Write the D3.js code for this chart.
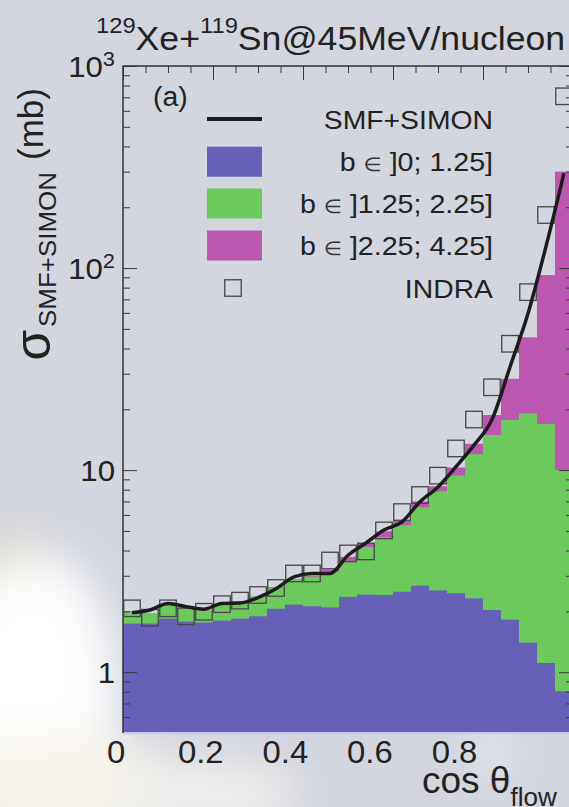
<!DOCTYPE html>
<meta charset="utf-8">
<html>
<head>
<script src="https://cdnjs.cloudflare.com/ajax/libs/d3/7.8.5/d3.min.js"></script>
<style>
    body { margin: 0; background: #d3d5df; }
    svg { display: block; }
    text { font-family: "Liberation Sans", Arial, Helvetica, sans-serif; fill: #222; }
</style>
</head>
<body>
<script>
// bins of cos(theta_flow), width 0.04
var cosBins = [0, 0.04, 0.08, 0.12, 0.16, 0.2, 0.24, 0.28, 0.32, 0.36, 0.4, 0.44, 0.48,
               0.52, 0.56, 0.6, 0.64, 0.68, 0.72, 0.76, 0.8, 0.84, 0.88, 0.92, 0.96];
var binWidth = 0.04;

// SMF+SIMON cross sections (mb) per impact parameter class
var sigmaB1 = [1.74, 1.74, 1.84, 1.78, 1.76, 1.80, 1.84, 1.89, 2.06, 2.16, 2.12, 2.09, 2.36,
               2.42, 2.41, 2.50, 2.68, 2.54, 2.46, 2.32, 2.03, 1.82, 1.40, 1.11, 0.805];
var sigmaB2 = [0.26, 0.21, 0.30, 0.30, 0.26, 0.36, 0.39, 0.48, 0.56, 0.70, 0.85, 1.06, 1.19,
               1.75, 2.24, 2.84, 3.87, 5.31, 6.94, 9.68, 12.9, 15.9, 17.7, 15.8, 9.2];
var sigmaB3 = [0, 0, 0, 0, 0, 0, 0, 0, 0.02, 0.02, 0.03, 0.07, 0.17,
               0.18, 0.33, 0.29, 0.45, 0.48, 0.9, 1.5, 3.8, 10.6, 26.3, 75.4, 290];

// INDRA data and SMF+SIMON total curve, at bin centres
var indra = [2.07, 1.86, 2.07, 1.89, 1.99, 2.17, 2.26, 2.41, 2.61, 3.08, 3.08, 3.57, 3.87,
             3.96, 5.03, 6.2, 7.53, 9.39, 12.8, 17.8, 25.7, 42.2, 76, 183, 708];
var smfSimon = [1.97, 2.03, 2.19, 2.11, 2.05, 2.19, 2.20, 2.34, 2.59, 2.96, 3.08, 3.08, 3.79,
                4.36, 5.05, 5.55, 6.97, 8.26, 10.4, 13.3, 17.8, 32.4, 59.6, 128, 295];

var seriesKeys = ["b1", "b2", "b3"];
var seriesRanges = ["]0; 1.25]", "]1.25; 2.25]", "]2.25; 4.25]"];
var seriesColors = ["#6660b8", "#6cca5c", "#bb56b1"];

var xTicks = [0, 0.2, 0.4, 0.6, 0.8];
var yTicks = [1, 10, 100, 1000];
var yTickBase = ["1", "10", "10", "10"];
var yTickExp = ["", "", "2", "3"];

var width = 569, height = 807;

var x = d3.scaleLinear().domain([0, 1]).range([123, 573]);
var y = d3.scaleLog().domain([0.5, 1000]).range([733, 66]);

var svg = d3.select("body").append("svg")
    .attr("width", width)
    .attr("height", height);

// background: grey sky with a bright patch at lower left
var defs = svg.append("defs");
defs.append("filter").attr("id", "blur")
    .attr("x", "-50%").attr("y", "-50%").attr("width", "200%").attr("height", "200%")
    .append("feGaussianBlur").attr("stdDeviation", 22);
svg.append("rect").attr("width", width).attr("height", height).attr("fill", "#d3d5df");
var bg = svg.append("g").attr("filter", "url(#blur)");
bg.append("ellipse").attr("cx", 30).attr("cy", 690).attr("rx", 85).attr("ry", 140).attr("fill", "#ffffff");
bg.append("ellipse").attr("cx", 70).attr("cy", 790).attr("rx", 120).attr("ry", 55).attr("fill", "#f6f3e8");
bg.append("ellipse").attr("cx", 200).attr("cy", 795).attr("rx", 100).attr("ry", 35).attr("fill", "#f0efec");
bg.append("ellipse").attr("cx", 10).attr("cy", 550).attr("rx", 25).attr("ry", 25).attr("fill", "#e4dfcd");
bg.append("ellipse").attr("cx", 492).attr("cy", 752).attr("rx", 18).attr("ry", 14).attr("fill", "#ffffff");

// stacked histogram
var rows = cosBins.map(function (c, i) {
    return { lo: c, b1: sigmaB1[i], b2: sigmaB2[i], b3: sigmaB3[i] };
});
var stacked = d3.stack().keys(seriesKeys)(rows);

// draw the tallest layer first so each layer covers from the axis
var bars = svg.append("g");
for (var s = stacked.length - 1; s >= 0; s--) {
    bars.append("g")
        .attr("fill", seriesColors[s])
        .selectAll("rect")
        .data(stacked[s])
        .enter()
        .append("rect")
        .attr("x", function (d) { return x(d.data.lo); })
        .attr("width", function (d) { return x(d.data.lo + binWidth) - x(d.data.lo); })
        .attr("y", function (d) { return y(d[1]); })
        .attr("height", function (d) { return y.range()[0] - y(d[1]); });
}

// bottom edge
svg.append("line")
    .attr("x1", 123).attr("x2", 573).attr("y1", 733).attr("y2", 733)
    .attr("stroke", "#c9cbe8").attr("stroke-width", 2);

// frame + ticks
function tickAxis(axis, pos, values, size) {
    var g = svg.append("g")
        .attr("transform", pos)
        .call(axis.tickValues(values).tickSize(size).tickFormat(""));
    g.select(".domain").remove();
    g.selectAll("line").attr("stroke", "#3a3a3a").attr("stroke-width", 1);
    return g;
}
var xMinor = [], xMajor = [];
for (var k = 0; k <= 20; k++) {
    if (k % 4 === 0) xMajor.push(k * 0.05); else xMinor.push(k * 0.05);
}
var yMinor = [];
[1, 10, 100].forEach(function (dec) {
    for (var m = 2; m <= 9; m++) yMinor.push(dec * m);
});
yMinor.unshift(0.6, 0.7, 0.8, 0.9);

tickAxis(d3.axisBottom(x), "translate(0,66)", xMajor, 14);
tickAxis(d3.axisBottom(x), "translate(0,66)", xMinor, 7);
tickAxis(d3.axisRight(y), "translate(123,0)", yTicks, 14);
tickAxis(d3.axisRight(y), "translate(123,0)", yMinor, 7);
tickAxis(d3.axisLeft(y), "translate(573,0)", yTicks, 14);
tickAxis(d3.axisLeft(y), "translate(573,0)", yMinor, 7);

svg.append("path")
    .attr("d", "M123,733V66H573V733")
    .attr("fill", "none")
    .attr("stroke", "#333")
    .attr("stroke-width", 1.5);

// INDRA squares
var sq = 16.5;
svg.append("g")
    .selectAll("rect")
    .data(indra)
    .enter()
    .append("rect")
    .attr("x", function (d, i) { return x(cosBins[i] + binWidth / 2) - sq / 2; })
    .attr("y", function (d) { return y(d) - sq / 2; })
    .attr("width", sq)
    .attr("height", sq)
    .attr("fill", "none")
    .attr("stroke", "#474747")
    .attr("stroke-width", 1.3);

// SMF+SIMON line
var line = d3.line()
    .x(function (d, i) { return x(cosBins[i] + binWidth / 2); })
    .y(function (d) { return y(d); })
    .curve(d3.curveMonotoneX);
svg.append("path")
    .datum(smfSimon)
    .attr("d", line)
    .attr("fill", "none")
    .attr("stroke", "#1c1c1c")
    .attr("stroke-width", 3.5)
    .attr("stroke-linejoin", "round");

// helper for slightly wide text
function wideText(px, py, size, anchor, sx) {
    return svg.append("text")
        .attr("transform", "translate(" + px + "," + py + ") scale(" + sx + ",1)")
        .attr("font-size", size)
        .attr("text-anchor", anchor);
}

// x tick labels
var xLab = svg.append("g").attr("transform", "translate(0,733)")
    .call(d3.axisBottom(x).tickValues(xTicks).tickSize(0).tickPadding(8)
        .tickFormat(function (d) { return d === 0 ? "0" : d3.format(".1f")(d); }));
xLab.select(".domain").remove();
xLab.selectAll("text")
    .attr("font-size", 31)
    .attr("font-family", "'Liberation Sans', Arial, sans-serif")
    .attr("fill", "#222")
    .attr("transform", "scale(1.06,1)")
    .attr("x", function (d) { return x(d) / 1.06 - x(d); });

// y tick labels
yTicks.forEach(function (v, i) {
    var t = wideText(115, y(v) + 10.5, 30, "end", 1.04);
    t.append("tspan").text(yTickBase[i]);
    if (yTickExp[i]) {
        t.append("tspan").attr("font-size", 21).attr("dy", -11).text(yTickExp[i]);
    }
});

// title
var title = wideText(96, 50, 33, "start", 1.08);
title.append("tspan").attr("font-size", 22).attr("dy", -17).text("129");
title.append("tspan").attr("dy", 17).text("Xe+");
title.append("tspan").attr("font-size", 22).attr("dy", -17).text("119");
title.append("tspan").attr("dy", 17).text("Sn@45MeV/nucleon");

// y axis title
svg.append("text")
    .attr("transform", "translate(50,345) rotate(-90)")
    .attr("font-size", 50)
    .attr("text-anchor", "middle")
    .text("\u03c3");
svg.append("text")
    .attr("transform", "translate(56,327) rotate(-90)")
    .attr("font-size", 23)
    .attr("textLength", 155)
    .attr("lengthAdjust", "spacingAndGlyphs")
    .text("SMF+SIMON");
svg.append("text")
    .attr("transform", "translate(43,160) rotate(-90)")
    .attr("font-size", 35)
    .text("(mb)");

// x axis title
var xt = svg.append("text").attr("x", 422).attr("y", 793).attr("font-size", 37);
xt.append("tspan").text("cos \u03b8");
xt.append("tspan").attr("font-size", 26).attr("dy", 13).text("flow");

// panel label
wideText(153, 106, 27, "start", 1.05).text("(a)");

// legend
var rowY = [119, 161.7, 203.5, 245.5, 288];
svg.append("line")
    .attr("x1", 207).attr("x2", 262).attr("y1", rowY[0]).attr("y2", rowY[0])
    .attr("stroke", "#1c1c1c").attr("stroke-width", 4);
wideText(493, rowY[0] + 9.5, 26, "end", 1.09).text("SMF+SIMON");
seriesRanges.forEach(function (lab, i) {
    svg.append("rect")
        .attr("x", 207).attr("y", rowY[i + 1] - 15)
        .attr("width", 55).attr("height", 30)
        .attr("fill", seriesColors[i]);
    var t = wideText(493, rowY[i + 1] + 9.5, 26, "end", 1.1);
    t.append("tspan").text("b ");
    t.append("tspan").attr("font-size", 19).attr("font-family", "'DejaVu Sans', sans-serif")
        .attr("fill", "#333").text("\u2208");
    t.append("tspan").text(" " + lab);
});
svg.append("rect")
    .attr("x", 233 - sq / 2).attr("y", rowY[4] - sq / 2)
    .attr("width", sq).attr("height", sq)
    .attr("fill", "none").attr("stroke", "#474747").attr("stroke-width", 1.3);
wideText(493, rowY[4] + 9.5, 26, "end", 1.09).text("INDRA");
</script>
</body>
</html>
